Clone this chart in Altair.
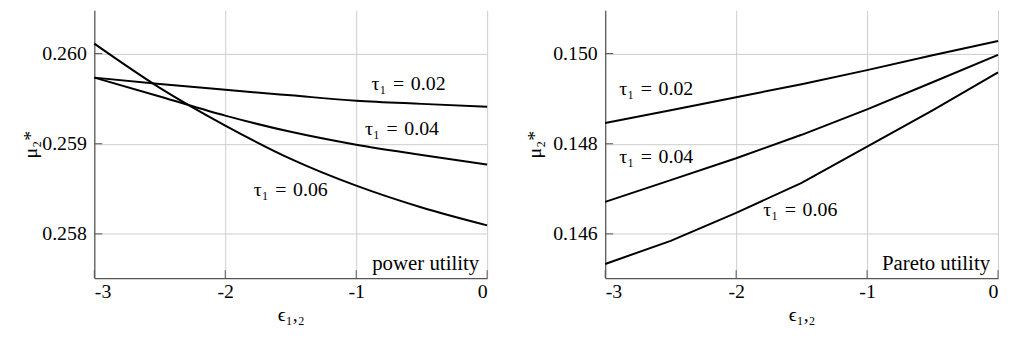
import altair as alt
import pandas as pd

# ---- data ----
eps = [-3.0, -2.5, -2.0, -1.5, -1.0, -0.5, 0.0]
taus = ["0.02", "0.04", "0.06"]

power_mu = {
    "0.02": [0.259733, 0.259662, 0.259598, 0.259537, 0.259477, 0.259442, 0.259411],
    "0.04": [0.259733, 0.259524, 0.259312, 0.259132, 0.258989, 0.258876, 0.258769],
    "0.06": [0.260110, 0.259620, 0.259202, 0.258832, 0.258535, 0.258293, 0.258095],
}
pareto_mu = {
    "0.02": [0.148462, 0.148741, 0.149033, 0.149319, 0.149633, 0.149963, 0.150279],
    "0.04": [0.146710, 0.147193, 0.147677, 0.148198, 0.148763, 0.149363, 0.149971],
    "0.06": [0.145334, 0.145846, 0.146468, 0.147132, 0.147934, 0.148741, 0.149582],
}

x_ticks = [-3, -2, -1, 0]
power_y_ticks = [0.258, 0.259, 0.260]
pareto_y_ticks = [0.146, 0.148, 0.150]

power_domain = [0.25751, 0.26048]
pareto_domain = [0.14502, 0.15096]

# label anchors (data coordinates)
power_label_eps = [-0.60, -0.65, -1.50]
power_label_mu = [0.259667, 0.259162, 0.258491]
pareto_label_eps = [-2.61, -2.61, -1.51]
pareto_label_mu = [0.149209, 0.147714, 0.146527]

captions = ["power utility", "Pareto utility"]

FONT = "'Liberation Serif', 'Times New Roman', 'DejaVu Serif', serif"
W, H = 396, 270


def build_panel(mu_dict, y_ticks, domain, lab_eps, lab_mu, caption, title_pad, interp):
    rows = []
    for t in taus:
        for e, m in zip(eps, mu_dict[t]):
            rows.append({"eps": e, "mu": m, "tau": t})
    lines_df = pd.DataFrame(rows)
    labels_df = pd.DataFrame({
        "eps": lab_eps, "mu": lab_mu,
        "text": ["\u03c4\u2081\u2004=\u2004" + t for t in taus],
    })
    ytick_df = pd.DataFrame({"mu": y_ticks})
    xtick_df = pd.DataFrame({"eps": x_ticks})
    cap_df = pd.DataFrame({"text": [caption]})

    def X():
        return alt.X(
            "eps:Q",
            scale=alt.Scale(domain=[-3, 0], nice=False, zero=False),
            axis=alt.Axis(
                values=x_ticks,
                labelExpr="datum.value == 0 ? '0' : '-' + abs(datum.value)",
                title="\u03f5\u2081,\u2082",
                labelPadding=4,
                titlePadding=3,
            ),
        )

    def Y():
        return alt.Y(
            "mu:Q",
            scale=alt.Scale(domain=domain, nice=False, zero=False),
            axis=alt.Axis(
                values=y_ticks,
                format=".3f",
                title="\u03bc\u2082*",
                labelPadding=8,
                titlePadding=title_pad,
            ),
        )

    lines = alt.Chart(lines_df).mark_line(
        color="black", strokeWidth=2, interpolate=interp
    ).encode(x=X(), y=Y(), detail="tau:N")
    yt = alt.Chart(ytick_df).mark_rule(color="#555555", strokeWidth=1).encode(
        y=Y(), x=alt.value(0), x2=alt.value(8)
    )
    xt = alt.Chart(xtick_df).mark_rule(color="#555555", strokeWidth=1).encode(
        x=X(), y=alt.value(H), y2=alt.value(H - 8)
    )
    labels = alt.Chart(labels_df).mark_text(
        font=FONT, fontSize=20, align="center", baseline="middle", color="black"
    ).encode(x=X(), y=Y(), text="text:N")
    cap = alt.Chart(cap_df).mark_text(
        font=FONT, fontSize=21, align="right", baseline="alphabetic", color="black"
    ).encode(x=alt.value(W - 8), y=alt.value(H - 8), text="text:N")

    return alt.layer(yt, xt, lines, labels, cap).properties(width=W, height=H)


left = build_panel(power_mu, power_y_ticks, power_domain,
                   power_label_eps, power_label_mu, captions[0], 1, "monotone")
right = build_panel(pareto_mu, pareto_y_ticks, pareto_domain,
                    pareto_label_eps, pareto_label_mu, captions[1], 8, "linear")

chart = alt.hconcat(left, right, spacing=32).properties(
    padding={"left": 12, "top": 0, "right": 0, "bottom": 0}
).configure_view(stroke="transparent").configure_axis(
    labelFont=FONT, labelFontSize=20, labelColor="black",
    titleFont=FONT, titleFontSize=20, titleColor="black", titleFontWeight="normal",
    domainColor="#555555", domainWidth=1.2,
    gridColor="#cccccc", gridWidth=1,
    ticks=False, tickSize=0,
)

chart.save("out.html", embed_options={"renderer": "svg", "actions": False})
